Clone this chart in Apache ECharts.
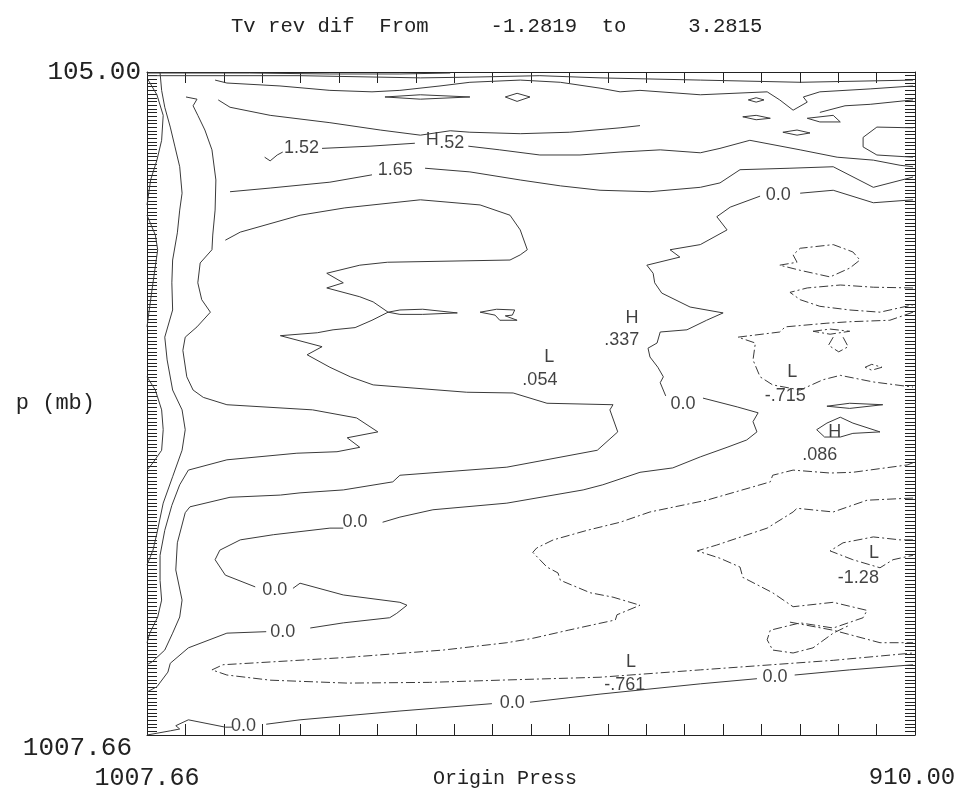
<!DOCTYPE html>
<html><head><meta charset="utf-8">
<script src="https://cdn.jsdelivr.net/npm/echarts@6/dist/echarts.min.js"></script>
<style>html,body{margin:0;padding:0;background:#fff}#c{width:958px;height:797px}</style>
</head><body><div id="c"></div>
<script>
// ---- axes ----
const xMin = 910.00, xMax = 1007.66;   // Origin Press (drawn reversed)
const yMin = 105.00, yMax = 1007.66;   // p (mb) (drawn reversed)
const titleText = 'Tv rev dif  From     -1.2819  to     3.2815';
const xName = 'Origin Press';
const yName = 'p (mb)';

// ---- solid contours (positive levels), [origin press, p]; null splits a line ----
const cLeft1a = [[1007.5,116],[1006.4,136],[1005.6,164],[1005.8,198],[1006.4,225],[1007.2,252],[1007.66,286]];
const cLeft1b = [[1007.66,300],[1006.6,327],[1006.3,347],[1006.9,392],[1007.5,439],[1007.66,452]];
const cLeft1c = [[1007.66,520],[1006.6,538],[1005.8,565],[1005.6,592],[1005.8,620],[1006.9,637],[1007.66,647]];
const cLeft2 = [[1006.0,106],[1005.8,130],[1005.4,153],[1004.7,180],[1004.1,207],[1003.5,234],[1003.2,270],[1003.5,293],[1003.8,324],[1004.4,361],[1004.5,392],[1004.4,429],[1005.4,466],[1005.1,497],[1004.4,538],[1003.2,565],[1002.8,592],[1003.2,620],[1004.4,656],[1005.6,692],[1006.4,733],[1006.9,756],[1007.66,776]];
const cLeft3 = [[1002.7,139],[1001.3,142],[1001.8,151],[1001.2,164],[1000.3,184],[999.4,211],[998.9,252],[999.0,293],[999.3,327],[999.4,347],[1000.9,365],[1001.2,392],[1000.7,415],[999.6,432],[1001.3,452],[1002.8,466],[1003.1,484],[1002.6,520],[1001.8,538],[1000.5,548],[997.5,558],[986.6,565],[981.0,576],[978.3,595],[982.2,603],[980.6,616],[983.5,622],[988.6,624],[997.5,633],[1002.4,647],[1003.5,667],[1004.5,695],[1005.4,729],[1006.0,763],[1006.0,797],[1005.8,824],[1006.3,847],[1007.3,869],[1007.66,882]];
const cMid = [[997.7,334],[995.8,323],[988.2,300],[982.5,290],[972.9,279],[965.3,286],[961.5,300],[960.2,320],
  [959.3,347],[960.2,354],[961.5,361],[977.1,364],[980.6,368],[984.8,379],[982.7,392],[984.8,399],[980.6,411],[978.9,418],[977.0,432],[979.05,443],[981.2,453],[984.0,456],[986.0,460],[990.7,464],[985.4,479],[987.3,490],[984.4,507],[981.8,520],[978.9,531],[967.0,541],[961.1,542],[956.8,556],[948.4,558],[948.8,565],[947.8,595],[950.4,620],[961.9,643],[975.5,654],[976.4,663],[982.7,674],[988.2,678],[990.7,681],[997.1,684],[1002.2,697],[1002.8,705],[1003.8,746],[1004.0,783],[1003.2,824],[1003.5,847],[1004.4,869],[1005.4,892],[1007.0,908],[1007.66,912]];
const cZero = [[910.25,279],[915.3,283],[920.4,266],[924.6,270],null,
  [929.7,274],[933.5,289],[935.2,302],[933.9,320],[937.3,340],[941.15,347],[939.9,357],[944.1,368],[943.3,379],[943.1,392],[942.2,406],[938.6,425],[934.4,433],[936.5,443],[939.0,456],[942.4,459],[942.8,474],[943.95,481],[943.7,493],[942.7,507],[942.0,520],[942.4,528],[941.7,546],null,
  [936.96,549],[932.6,561],[929.95,569],[930.6,581],[930.1,595],[931.4,606],[933.9,616],[937.3,629],[940.8,644],[944.97,650],[949.7,667],[952.2,674],[961.9,692],[971.3,701],[975.5,711],[977.7,718],null,
  [982.7,726],[984.4,726],[991.6,735],[995.8,742],[998.4,756],[999.0,769],[997.7,790],[993.9,806],null,
  [989.1,808],[988.2,801],[982.7,817],[975.5,827],[974.6,831],[975.9,842],[976.8,848],[982.7,855],[986.9,862],null,
  [992.5,867],[997.5,869],[1002.4,889],[1004.7,910],[1005.0,922],[1006.4,942],[1007.66,949]];
const cBottom = [[1007.66,1007.66],[1004.7,1002],[1003.5,999.5],[1004.0,995],[1002.4,987],[997.7,997],[996.8,997],null,
  [992.5,993],[988.2,987],[975.5,975],[963.8,965],null,
  [958.96,963],[950.05,952],[937.3,938],[930.1,931],null,
  [925.3,926],[918.3,919],[910.25,912]];
const cLensA = [[977.0,432],[975.5,429],[972.6,428],[968.2,433],[972.6,435],[975.5,435],[977.0,432]];
const cLensB = [[965.3,432],[963.2,428],[960.9,429],[961.2,436],[962.1,437],[960.6,443],[962.8,443],[963.4,436],[965.3,432]];
const cLensC = [[921.2,560],[918.3,556],[914.1,558],[918.3,563],[921.2,560]];
const cBlobH = [[922.5,592],[921.2,583],[919.5,575],[917.9,583],[914.45,595],[917.9,597],[919.5,602],[921.5,602],[922.5,592]];
const cRightC = [[910.25,181],[914.85,180],[916.6,194],[916.6,207],[914.85,218],[910.25,221]];
const cRightH = [[922.1,160],[918.9,151],[915.7,149],[910.25,143]];
const cTop0 = [[1007.66,106.4],[994.6,106.4],[984.4,107.7],[975.5,107.7],[969.1,106.4]];
const cTop1 = [[1007.66,110],[988.2,110],[972.9,113],[966.6,112],[957.7,110],[950.05,113],[937.3,116],[924.6,119],[910.25,116]];
const cTop2 = [[999.0,116],[997.5,120],[990.75,124],[984.4,130],[979.05,132],[975.5,130],[970.4,124],[966.6,119],[960.2,116],[955.1,119],[950.05,127],[947.5,132],[944.97,130],[937.3,136],[928.8,132],[927.2,143],[925.5,157],[923.7,146],[924.2,139],[922.1,132],[915.7,128],[910.25,124]];
const cLensT1 = [[977.4,139],[972.9,136],[966.6,139],[972.9,142],[977.4,139]];
const cLensT2 = [[962.1,139],[960.6,134],[958.96,139],[960.6,145],[962.1,139]];
const cLensT3 = [[931.2,143],[930.2,140],[929.2,143],[930.2,146],[931.2,143]];
const cLensT4 = [[931.9,166],[930.2,164],[928.4,168],[930.2,170],[931.9,166]];
const cLensT5 = [[923.7,168],[920.4,164],[919.5,173],[922.1,173],[923.7,168]];
const cLensT6 = [[926.8,187],[925.0,184],[923.35,188],[925.0,191],[926.8,187]];
const cU1 = [[992.7,221],[992.0,226],[991.1,218],[990.4,214],null,[985.4,209],[979.3,206],[973.6,202],null,
  [966.8,206],[962.8,211],[957.7,218],[952.6,218],[947.5,214],[942.4,211],[937.3,215],[934.8,209],[931.0,198],[924.6,211],[919.9,221],[915.3,225],[911.9,232],[910.25,234]];
const cU2 = [[998.6,143],[997.1,153],[992.0,164],[984.4,174],[978.0,184],[972.9,191],[969.1,185],[966.6,187],[960.2,189],[953.9,187],[947.5,181],[944.97,178]];
const cU3 = [[997.1,268],[992.0,263],[984.4,255],[979.05,245],null,
  [972.3,236],[966.6,241],[960.2,252],[955.1,260],[950.05,266],[943.7,268],[937.3,262],[934.8,256],[932.25,238],[925.9,236],[920.4,234],[915.3,262],[910.25,248]];

// ---- dash-dot contours (negative levels) ----
const nA = [[910.25,637],[911.0,640],[917.9,650],[920.8,651],[925.5,647],[928.1,654],[928.4,663],[930.98,671],[936.5,688],[943.7,704],[947.5,718],[951.7,729],[956.0,742],[958.1,753],[958.6,759],[956.8,779],[955.4,787],[955.1,797],[951.3,814],[948.4,820],[944.97,831],[947.9,844],[948.1,851],[954.1,865],[958.6,876],[961.9,882],[970.0,892],[982.2,902],[991.6,908],[998.0,912],[999.4,919],[997.5,926],[992.0,933],[982.2,937],[971.7,936],[962.8,933],[950.05,929],[937.3,919],[920.4,906],[910.25,896]];
const nB = [[910.25,685],[916.1,688],[920.4,704],[925.0,699],[925.5,704],[928.8,726],[935.2,749],[937.7,757],[934.8,767],[932.25,779],[931.9,793],[928.1,814],[925.5,833],[920.4,827],[916.1,838],[916.6,848],[920.4,862],[924.6,855],[928.4,865],[928.8,878],[928.1,892],[925.5,896],[922.97,889],[920.4,869],[918.3,858]];
const nB2 = [[925.9,854],[920.4,865],[914.45,882],[910.25,882]];
const nC = [[910.25,742],[911.9,742],[915.3,738],[919.15,746],[920.8,757],[917.9,769],[914.45,780],[912.8,769],[910.25,763]];
const nD = [[910.25,432],[913.2,443],[918.3,445],[921.2,447],[926.5,452],[927.2,459],[932.5,466],[930.3,474],[930.6,497],[929.7,520],[928.1,531],[924.6,538],[921.7,524],[919.5,518],[915.3,527],[910.25,534]];
const nE = [[910.25,399],[915.3,398],[919.5,395],[923.7,399],[925.9,405],[924.6,415],[922.1,424],[918.3,429],[914.45,432],[910.25,422]];
const nF = [[927.2,368],[925.0,364],[925.5,354],[924.6,345],[920.4,340],[917.9,350],[917.0,361],[918.3,372],[920.8,384],[924.6,375],[927.2,368]];
const nG = [[922.97,458],[920.8,455],[918.3,458],[920.8,462],[922.97,458]];
const nH = [[920.4,466],[921.0,477],[919.7,486],[918.5,479],[919.15,466]];
const nI = [[916.35,507],[915.5,503],[914.2,507],[915.5,511],[916.35,507]];

// ---- contour labels: [origin press, p, text] ----
const contourLabels = [
  [988.0,209,'1.52'],[971.4,197,'H'],[968.9,202,'.52'],[976.1,238,'1.65'],[927.4,273,'0.0'],
  [946.0,440,'H'],[947.3,470,'.337'],[956.5,493,'L'],[957.7,524,'.054'],[939.5,557,'0.0'],
  [925.6,514,'L'],[926.5,546,'-.715'],[920.2,595,'H'],[922.1,626,'.086'],[981.2,718,'0.0'],
  [915.2,760,'L'],[917.2,794,'-1.28'],[991.4,810,'0.0'],[990.4,867,'0.0'],[946.1,908,'L'],
  [946.9,940,'-.761'],[961.2,964,'0.0'],[927.8,929,'0.0'],[995.4,995,'0.0']
];

const solidSet = [cLeft1a,cLeft1b,cLeft1c,cLeft2,cLeft3,cMid,cZero,cBottom,cLensA,cLensB,cLensC,cBlobH,cRightC,cRightH,
  cTop0,cTop1,cTop2,cLensT1,cLensT2,cLensT3,cLensT4,cLensT5,cLensT6,cU1,cU2,cU3];
const dashSet = [nA,nB,nB2,nC,nD,nE,nF,nG,nH,nI];

function splitSegs(arr){const out=[];let cur=[];arr.forEach(p=>{if(p===null){if(cur.length)out.push(cur);cur=[];}else cur.push(p);});if(cur.length)out.push(cur);return out;}

const LINE_COLOR = '#3a3a3a';
const series = [];
solidSet.forEach(c=>splitSegs(c).forEach(seg=>series.push({type:'line',data:seg,showSymbol:false,symbol:'none',silent:true,lineStyle:{color:LINE_COLOR,width:1,type:'solid'},xAxisIndex:0,yAxisIndex:0})));
dashSet.forEach(c=>splitSegs(c).forEach(seg=>series.push({type:'line',data:seg,showSymbol:false,symbol:'none',silent:true,lineStyle:{color:LINE_COLOR,width:1,type:[9,3,2,3]},xAxisIndex:0,yAxisIndex:0})));
series.push({type:'scatter',xAxisIndex:0,yAxisIndex:0,symbolSize:1,itemStyle:{color:'rgba(0,0,0,0)'},silent:true,
  data:contourLabels.map(d=>({value:[d[0],d[1]],name:d[2]})),
  label:{show:true,position:'inside',formatter:p=>p.name,fontFamily:'Liberation Sans',fontSize:18,color:'#111'}});

const MONO = 'Liberation Mono';
const AX = '#222';
const near=(a,b)=>Math.abs(a-b)<1e-6;

const option = {
  animation:false,
  backgroundColor:'#fff',
  title:{text:titleText,left:226,top:11,textStyle:{fontFamily:MONO,fontSize:20.6,fontWeight:'normal',color:'#222'}},
  grid:{left:147,right:43,top:72,bottom:62,containLabel:false,outerBoundsMode:'none'},
  xAxis:[
    {type:'value',min:xMin,max:xMax,inverse:true,position:'bottom',
     axisLine:{show:true,onZero:false,lineStyle:{color:AX,width:1}},axisTick:{show:false},splitLine:{show:false},
     axisLabel:{showMinLabel:true,showMaxLabel:true,margin:31,color:'#222',
       formatter:v=>near(v,xMax)?'{a|'+v.toFixed(2)+'}':(near(v,xMin)?'{b|'+v.toFixed(2)+'}':''),
       rich:{a:{fontFamily:MONO,fontSize:25,color:'#222'},b:{fontFamily:MONO,fontSize:24,color:'#222',padding:[0,6,0,0]}}},
     name:xName,nameLocation:'middle',nameGap:34,nameMoveOverlap:false,nameTextStyle:{fontFamily:MONO,fontSize:20,color:'#222',verticalAlign:'top',padding:[0,52,0,0]}},
    {type:'value',min:0,max:20,interval:1,position:'bottom',axisLine:{show:false,onZero:false},
     axisTick:{show:true,inside:true,length:11,lineStyle:{color:AX}},axisLabel:{show:false},splitLine:{show:false}},
    {type:'value',min:0,max:20,interval:1,position:'top',axisLine:{show:true,onZero:false,lineStyle:{color:AX}},
     axisTick:{show:true,inside:true,length:11,lineStyle:{color:AX}},axisLabel:{show:false},splitLine:{show:false}}
  ],
  yAxis:[
    {type:'value',min:yMin,max:yMax,inverse:true,position:'left',
     axisLine:{show:true,onZero:false,lineStyle:{color:AX,width:1}},axisTick:{show:false},splitLine:{show:false},
     axisLabel:{showMinLabel:true,showMaxLabel:true,margin:6,color:'#222',
       formatter:v=>near(v,yMin)?'{a|'+v.toFixed(2)+'}':(near(v,yMax)?'{b|'+v.toFixed(2)+'}':''),
       rich:{a:{fontFamily:MONO,fontSize:26,color:'#222'},b:{fontFamily:MONO,fontSize:26,color:'#222',padding:[26,9,0,0]}}},
     name:yName,nameLocation:'middle',nameRotate:0,nameGap:52,nameMoveOverlap:false,nameTextStyle:{fontFamily:MONO,fontSize:22,color:'#222',align:'right'}},
    {type:'value',min:0,max:180,interval:1,position:'left',axisLine:{show:false,onZero:false},
     axisTick:{show:true,inside:true,length:10,lineStyle:{color:AX}},axisLabel:{show:false},splitLine:{show:false}},
    {type:'value',min:0,max:180,interval:1,position:'right',axisLine:{show:true,onZero:false,lineStyle:{color:AX}},
     axisTick:{show:true,inside:true,length:10,lineStyle:{color:AX}},axisLabel:{show:false},splitLine:{show:false}}
  ],
  series:series
};
const chart = echarts.init(document.getElementById('c'),null,{renderer:'canvas'});
chart.setOption(option);
</script></body></html>
